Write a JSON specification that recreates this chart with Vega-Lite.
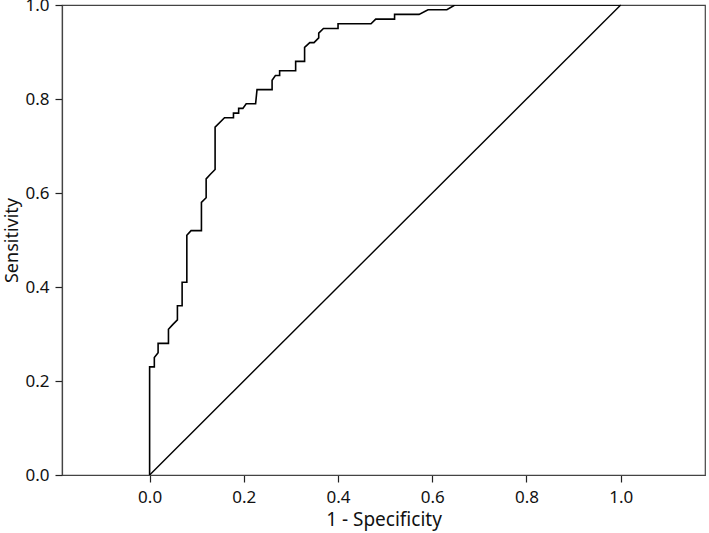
{
  "$schema": "https://vega.github.io/schema/vega-lite/v6.json",
  "width": 643,
  "height": 470,
  "autosize": {"type": "none"},
  "padding": {"left": 62, "top": 5, "right": 4, "bottom": 58},
  "background": "white",
  "config": {
    "view": {"stroke": "#444444", "strokeWidth": 1.2},
    "font": "Noto Sans",
    "axis": {
      "domainColor": "#444444",
      "domainWidth": 1.2,
      "tickColor": "#222222",
      "tickWidth": 1.2,
      "tickSize": 7,
      "grid": false,
      "labelFont": "Noto Sans",
      "labelFontSize": 17,
      "labelColor": "#111111",
      "titleFont": "Noto Sans",
      "titleFontSize": 19,
      "titleFontWeight": "normal",
      "titleColor": "#111111"
    }
  },
  "layer": [
    {
      "data": {
        "values": [
          {"i": 0, "fpr": 0, "tpr": 0},
          {"i": 1, "fpr": 0, "tpr": 0.23},
          {"i": 2, "fpr": 0.01, "tpr": 0.23},
          {"i": 3, "fpr": 0.01, "tpr": 0.25},
          {"i": 4, "fpr": 0.018, "tpr": 0.26},
          {"i": 5, "fpr": 0.018, "tpr": 0.28},
          {"i": 6, "fpr": 0.04, "tpr": 0.28},
          {"i": 7, "fpr": 0.04, "tpr": 0.31},
          {"i": 8, "fpr": 0.049, "tpr": 0.32},
          {"i": 9, "fpr": 0.059, "tpr": 0.33},
          {"i": 10, "fpr": 0.059, "tpr": 0.36},
          {"i": 11, "fpr": 0.069, "tpr": 0.36},
          {"i": 12, "fpr": 0.069, "tpr": 0.41},
          {"i": 13, "fpr": 0.079, "tpr": 0.41},
          {"i": 14, "fpr": 0.079, "tpr": 0.51},
          {"i": 15, "fpr": 0.088, "tpr": 0.52},
          {"i": 16, "fpr": 0.11, "tpr": 0.52},
          {"i": 17, "fpr": 0.11, "tpr": 0.58},
          {"i": 18, "fpr": 0.12, "tpr": 0.59},
          {"i": 19, "fpr": 0.12, "tpr": 0.63},
          {"i": 20, "fpr": 0.129, "tpr": 0.64},
          {"i": 21, "fpr": 0.139, "tpr": 0.65},
          {"i": 22, "fpr": 0.139, "tpr": 0.74},
          {"i": 23, "fpr": 0.159, "tpr": 0.76},
          {"i": 24, "fpr": 0.178, "tpr": 0.76},
          {"i": 25, "fpr": 0.178, "tpr": 0.77},
          {"i": 26, "fpr": 0.189, "tpr": 0.77},
          {"i": 27, "fpr": 0.189, "tpr": 0.78},
          {"i": 28, "fpr": 0.198, "tpr": 0.78},
          {"i": 29, "fpr": 0.205, "tpr": 0.79},
          {"i": 30, "fpr": 0.225, "tpr": 0.79},
          {"i": 31, "fpr": 0.228, "tpr": 0.82},
          {"i": 32, "fpr": 0.26, "tpr": 0.82},
          {"i": 33, "fpr": 0.26, "tpr": 0.84},
          {"i": 34, "fpr": 0.267, "tpr": 0.85},
          {"i": 35, "fpr": 0.276, "tpr": 0.85},
          {"i": 36, "fpr": 0.276, "tpr": 0.86},
          {"i": 37, "fpr": 0.31, "tpr": 0.86},
          {"i": 38, "fpr": 0.31, "tpr": 0.88},
          {"i": 39, "fpr": 0.329, "tpr": 0.88},
          {"i": 40, "fpr": 0.329, "tpr": 0.91},
          {"i": 41, "fpr": 0.34, "tpr": 0.92},
          {"i": 42, "fpr": 0.349, "tpr": 0.92},
          {"i": 43, "fpr": 0.359, "tpr": 0.93},
          {"i": 44, "fpr": 0.359, "tpr": 0.94},
          {"i": 45, "fpr": 0.369, "tpr": 0.95},
          {"i": 46, "fpr": 0.4, "tpr": 0.95},
          {"i": 47, "fpr": 0.4, "tpr": 0.96},
          {"i": 48, "fpr": 0.47, "tpr": 0.96},
          {"i": 49, "fpr": 0.48, "tpr": 0.97},
          {"i": 50, "fpr": 0.52, "tpr": 0.97},
          {"i": 51, "fpr": 0.52, "tpr": 0.98},
          {"i": 52, "fpr": 0.572, "tpr": 0.98},
          {"i": 53, "fpr": 0.591, "tpr": 0.99},
          {"i": 54, "fpr": 0.631, "tpr": 0.99},
          {"i": 55, "fpr": 0.648, "tpr": 1.0},
          {"i": 56, "fpr": 1.0, "tpr": 1.0}
        ]
      },
      "mark": {"type": "line", "color": "#000000", "strokeWidth": 1.6, "clip": true},
      "encoding": {
        "x": {
          "field": "fpr", "type": "quantitative",
          "scale": {"domain": [-0.186, 1.179], "nice": false, "zero": false},
          "axis": {"values": [0, 0.2, 0.4, 0.6, 0.8, 1.0], "format": ".1f", "title": "1 - Specificity", "labelPadding": 7, "titlePadding": 5}
        },
        "y": {
          "field": "tpr", "type": "quantitative",
          "scale": {"domain": [0, 1], "nice": false, "zero": false},
          "axis": {"values": [0, 0.2, 0.4, 0.6, 0.8, 1.0], "format": ".1f", "title": "Sensitivity", "titleFontSize": 18, "labelPadding": 6, "titlePadding": 3}
        },
        "order": {"field": "i", "type": "quantitative"}
      }
    },
    {
      "data": {
        "values": [
          {"i": 0, "fpr": 0, "tpr": 0},
          {"i": 1, "fpr": 1, "tpr": 1}
        ]
      },
      "mark": {"type": "line", "color": "#000000", "strokeWidth": 1.4},
      "encoding": {
        "x": {"field": "fpr", "type": "quantitative"},
        "y": {"field": "tpr", "type": "quantitative"},
        "order": {"field": "i", "type": "quantitative"}
      }
    }
  ]
}
